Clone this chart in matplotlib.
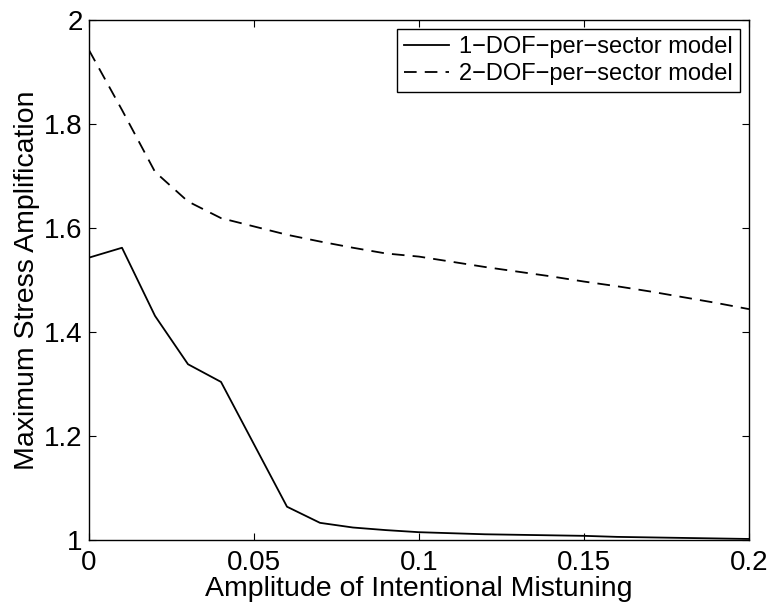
import matplotlib
matplotlib.use("Agg")
import matplotlib.pyplot as plt

# data
mistuning = [0.0, 0.01, 0.02, 0.03, 0.04, 0.05, 0.06, 0.07, 0.08, 0.09, 0.10,
             0.11, 0.12, 0.13, 0.14, 0.15, 0.16, 0.17, 0.18, 0.19, 0.20]
amp_1dof = [1.543, 1.562, 1.431, 1.338, 1.304, 1.184, 1.064, 1.033, 1.024, 1.019, 1.015,
            1.013, 1.011, 1.010, 1.009, 1.008, 1.006, 1.005, 1.004, 1.003, 1.002]
amp_2dof = [1.942, 1.827, 1.708, 1.651, 1.619, 1.603, 1.587, 1.574, 1.562, 1.551, 1.545,
            1.535, 1.525, 1.516, 1.507, 1.497, 1.488, 1.478, 1.467, 1.456, 1.444]
labels = ["1\u2212DOF\u2212per\u2212sector model", "2\u2212DOF\u2212per\u2212sector model"]

plt.rcParams['font.family'] = ['Liberation Sans', 'DejaVu Sans']

fig = plt.figure(figsize=(7.72, 6.14), dpi=100)
ax = fig.add_axes([89 / 772, 1 - 540 / 614, 660 / 772, 520 / 614])

ax.plot(mistuning, amp_1dof, color="black", lw=1.3, label=labels[0])
ax.plot(mistuning, amp_2dof, color="black", lw=1.3, ls=(0, (7, 4.5)), label=labels[1])

ax.set_xlim(0, 0.2)
ax.set_ylim(1, 2)
ax.set_xticks([0, 0.05, 0.1, 0.15, 0.2])
ax.set_xticklabels(["0", "0.05", "0.1", "0.15", "0.2"])
ax.set_yticks([1, 1.2, 1.4, 1.6, 1.8, 2])
ax.set_yticklabels(["1", "1.2", "1.4", "1.6", "1.8", "2"])
ax.tick_params(direction="in", top=True, right=True, labelsize=20, length=5)
ax.tick_params(axis="x", pad=7)
ax.tick_params(axis="y", pad=4.5)
for s in ax.spines.values():
    s.set_linewidth(1.0)

ax.set_xlabel("Amplitude of Intentional Mistuning", fontsize=20.5, labelpad=0)
ax.set_ylabel("Maximum Stress Amplification", fontsize=20.5, labelpad=3)

leg = ax.legend(loc="upper right", fontsize=17, frameon=True, fancybox=False,
                edgecolor="black", framealpha=1, borderaxespad=0.38,
                handlelength=1.9, handletextpad=0.45, labelspacing=0.2, borderpad=0.3)
leg.get_frame().set_linewidth(1.0)

fig.savefig("out.png", dpi=100)
